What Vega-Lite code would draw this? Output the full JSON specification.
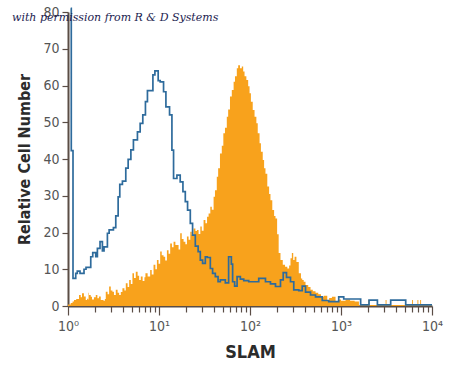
{
  "$schema": "https://vega.github.io/schema/vega-lite/v6.json",
  "autosize": "none",
  "width": 364,
  "height": 294,
  "padding": {"left": 68, "top": 12, "right": 18, "bottom": 63},
  "background": "white",
  "config": {"view": {"stroke": null}},
  "title": {"text": "with permission from R & D Systems", "anchor": "start", "frame": "group", "orient": "top", "offset": 0, "dx": -56, "dy": 27, "baseline": "alphabetic", "font": "DejaVu Serif", "fontStyle": "italic", "fontWeight": "normal", "fontSize": 11, "color": "#1c1c50"},
  "datasets": {
    "control": [
      {"log_slam": 0.03, "cells": 81}, {"log_slam": 0.036, "cells": 42.3}, {"log_slam": 0.055, "cells": 7.5}, {"log_slam": 0.085, "cells": 8.9}, {"log_slam": 0.102, "cells": 9.5}, {"log_slam": 0.132, "cells": 8.9}, {"log_slam": 0.176, "cells": 10.0}, {"log_slam": 0.198, "cells": 10.5}, {"log_slam": 0.25, "cells": 13.4}, {"log_slam": 0.272, "cells": 14.5}, {"log_slam": 0.305, "cells": 13.4}, {"log_slam": 0.323, "cells": 15.7}, {"log_slam": 0.352, "cells": 17.5}, {"log_slam": 0.378, "cells": 15.0}, {"log_slam": 0.396, "cells": 16.1}, {"log_slam": 0.433, "cells": 19.8}, {"log_slam": 0.452, "cells": 20.7}, {"log_slam": 0.499, "cells": 21.3}, {"log_slam": 0.525, "cells": 24.5}, {"log_slam": 0.551, "cells": 29.7}, {"log_slam": 0.569, "cells": 33.1}, {"log_slam": 0.598, "cells": 34.0}, {"log_slam": 0.635, "cells": 37.5}, {"log_slam": 0.661, "cells": 39.9}, {"log_slam": 0.691, "cells": 42.5}, {"log_slam": 0.719, "cells": 45.2}, {"log_slam": 0.763, "cells": 47.4}, {"log_slam": 0.793, "cells": 49.7}, {"log_slam": 0.822, "cells": 52.0}, {"log_slam": 0.851, "cells": 55.6}, {"log_slam": 0.873, "cells": 58.6}, {"log_slam": 0.933, "cells": 62.9}, {"log_slam": 0.955, "cells": 64.0}, {"log_slam": 0.991, "cells": 61.3}, {"log_slam": 1.013, "cells": 61.0}, {"log_slam": 1.05, "cells": 58.3}, {"log_slam": 1.076, "cells": 54.2}, {"log_slam": 1.116, "cells": 52.0}, {"log_slam": 1.142, "cells": 42.4}, {"log_slam": 1.16, "cells": 34.7}, {"log_slam": 1.197, "cells": 35.6}, {"log_slam": 1.233, "cells": 33.8}, {"log_slam": 1.263, "cells": 31.1}, {"log_slam": 1.289, "cells": 28.4}, {"log_slam": 1.314, "cells": 26.1}, {"log_slam": 1.344, "cells": 22.5}, {"log_slam": 1.369, "cells": 19.3}, {"log_slam": 1.399, "cells": 16.3}, {"log_slam": 1.43, "cells": 14.8}, {"log_slam": 1.454, "cells": 12.5}, {"log_slam": 1.479, "cells": 11.6}, {"log_slam": 1.509, "cells": 13.4}, {"log_slam": 1.531, "cells": 13.2}, {"log_slam": 1.564, "cells": 10.2}, {"log_slam": 1.589, "cells": 8.9}, {"log_slam": 1.619, "cells": 8.0}, {"log_slam": 1.649, "cells": 6.6}, {"log_slam": 1.674, "cells": 7.1}, {"log_slam": 1.729, "cells": 6.3}, {"log_slam": 1.765, "cells": 13.4}, {"log_slam": 1.795, "cells": 11.4}, {"log_slam": 1.809, "cells": 6.6}, {"log_slam": 1.831, "cells": 5.4}, {"log_slam": 1.858, "cells": 8.0}, {"log_slam": 1.894, "cells": 7.3}, {"log_slam": 1.931, "cells": 6.9}, {"log_slam": 1.986, "cells": 6.6}, {"log_slam": 2.096, "cells": 7.5}, {"log_slam": 2.17, "cells": 6.6}, {"log_slam": 2.225, "cells": 6.0}, {"log_slam": 2.28, "cells": 5.3}, {"log_slam": 2.335, "cells": 7.1}, {"log_slam": 2.365, "cells": 9.1}, {"log_slam": 2.401, "cells": 7.8}, {"log_slam": 2.445, "cells": 6.6}, {"log_slam": 2.481, "cells": 4.4}, {"log_slam": 2.536, "cells": 4.2}, {"log_slam": 2.574, "cells": 5.4}, {"log_slam": 2.61, "cells": 3.8}, {"log_slam": 2.665, "cells": 3.0}, {"log_slam": 2.72, "cells": 2.5}, {"log_slam": 2.794, "cells": 1.5}, {"log_slam": 2.865, "cells": 1.2}, {"log_slam": 2.975, "cells": 2.5}, {"log_slam": 3.03, "cells": 1.9}, {"log_slam": 3.216, "cells": 0.3}, {"log_slam": 3.308, "cells": 1.6}, {"log_slam": 3.4, "cells": 0.3}, {"log_slam": 3.546, "cells": 1.6}, {"log_slam": 3.711, "cells": 0.3}, {"log_slam": 4.0, "cells": 0.3}
    ],
    "stained": [
      {"log_slam": 0, "cells": 0.4}, {"log_slam": 0.03, "cells": 0.8}, {"log_slam": 0.05, "cells": 1.2}, {"log_slam": 0.066, "cells": 1.6}, {"log_slam": 0.09, "cells": 1.9}, {"log_slam": 0.121, "cells": 3.0}, {"log_slam": 0.14, "cells": 2.4}, {"log_slam": 0.154, "cells": 3.5}, {"log_slam": 0.175, "cells": 2.6}, {"log_slam": 0.195, "cells": 1.6}, {"log_slam": 0.21, "cells": 2.0}, {"log_slam": 0.22, "cells": 3.6}, {"log_slam": 0.225, "cells": 1.8}, {"log_slam": 0.231, "cells": 3.0}, {"log_slam": 0.25, "cells": 2.5}, {"log_slam": 0.264, "cells": 1.8}, {"log_slam": 0.285, "cells": 2.4}, {"log_slam": 0.305, "cells": 3.0}, {"log_slam": 0.323, "cells": 2.1}, {"log_slam": 0.34, "cells": 2.6}, {"log_slam": 0.36, "cells": 1.6}, {"log_slam": 0.39, "cells": 1.4}, {"log_slam": 0.405, "cells": 1.9}, {"log_slam": 0.415, "cells": 3.9}, {"log_slam": 0.435, "cells": 3.2}, {"log_slam": 0.452, "cells": 5.3}, {"log_slam": 0.47, "cells": 4.2}, {"log_slam": 0.488, "cells": 3.9}, {"log_slam": 0.505, "cells": 3.0}, {"log_slam": 0.525, "cells": 4.4}, {"log_slam": 0.545, "cells": 3.6}, {"log_slam": 0.562, "cells": 3.0}, {"log_slam": 0.58, "cells": 3.8}, {"log_slam": 0.598, "cells": 4.8}, {"log_slam": 0.62, "cells": 4.2}, {"log_slam": 0.635, "cells": 6.2}, {"log_slam": 0.655, "cells": 5.2}, {"log_slam": 0.672, "cells": 7.1}, {"log_slam": 0.69, "cells": 6.0}, {"log_slam": 0.708, "cells": 8.9}, {"log_slam": 0.725, "cells": 7.6}, {"log_slam": 0.745, "cells": 9.3}, {"log_slam": 0.765, "cells": 8.2}, {"log_slam": 0.782, "cells": 7.1}, {"log_slam": 0.8, "cells": 8.0}, {"log_slam": 0.82, "cells": 6.8}, {"log_slam": 0.84, "cells": 7.8}, {"log_slam": 0.851, "cells": 8.9}, {"log_slam": 0.875, "cells": 8.0}, {"log_slam": 0.903, "cells": 9.8}, {"log_slam": 0.92, "cells": 8.6}, {"log_slam": 0.94, "cells": 11.2}, {"log_slam": 0.96, "cells": 10.0}, {"log_slam": 0.977, "cells": 12.5}, {"log_slam": 0.995, "cells": 11.5}, {"log_slam": 1.013, "cells": 14.8}, {"log_slam": 1.03, "cells": 13.8}, {"log_slam": 1.05, "cells": 13.4}, {"log_slam": 1.068, "cells": 12.4}, {"log_slam": 1.087, "cells": 15.2}, {"log_slam": 1.105, "cells": 14.2}, {"log_slam": 1.123, "cells": 17.0}, {"log_slam": 1.142, "cells": 16.0}, {"log_slam": 1.16, "cells": 17.5}, {"log_slam": 1.18, "cells": 16.6}, {"log_slam": 1.197, "cells": 16.6}, {"log_slam": 1.215, "cells": 15.4}, {"log_slam": 1.233, "cells": 19.8}, {"log_slam": 1.25, "cells": 18.2}, {"log_slam": 1.27, "cells": 17.5}, {"log_slam": 1.29, "cells": 16.8}, {"log_slam": 1.307, "cells": 18.9}, {"log_slam": 1.325, "cells": 18.0}, {"log_slam": 1.344, "cells": 20.2}, {"log_slam": 1.36, "cells": 19.4}, {"log_slam": 1.38, "cells": 21.1}, {"log_slam": 1.4, "cells": 20.4}, {"log_slam": 1.417, "cells": 20.7}, {"log_slam": 1.435, "cells": 19.6}, {"log_slam": 1.454, "cells": 21.6}, {"log_slam": 1.47, "cells": 20.5}, {"log_slam": 1.49, "cells": 23.4}, {"log_slam": 1.51, "cells": 22.5}, {"log_slam": 1.528, "cells": 24.3}, {"log_slam": 1.545, "cells": 25.2}, {"log_slam": 1.564, "cells": 27.0}, {"log_slam": 1.58, "cells": 26.2}, {"log_slam": 1.6, "cells": 29.7}, {"log_slam": 1.615, "cells": 31.5}, {"log_slam": 1.635, "cells": 35.2}, {"log_slam": 1.65, "cells": 37.5}, {"log_slam": 1.67, "cells": 41.5}, {"log_slam": 1.69, "cells": 43.6}, {"log_slam": 1.707, "cells": 47.0}, {"log_slam": 1.725, "cells": 48.5}, {"log_slam": 1.745, "cells": 51.5}, {"log_slam": 1.76, "cells": 53.5}, {"log_slam": 1.78, "cells": 57.0}, {"log_slam": 1.8, "cells": 58.8}, {"log_slam": 1.82, "cells": 61.0}, {"log_slam": 1.835, "cells": 62.5}, {"log_slam": 1.855, "cells": 64.7}, {"log_slam": 1.87, "cells": 65.5}, {"log_slam": 1.89, "cells": 64.7}, {"log_slam": 1.91, "cells": 65.2}, {"log_slam": 1.925, "cells": 63.8}, {"log_slam": 1.94, "cells": 62.5}, {"log_slam": 1.96, "cells": 61.5}, {"log_slam": 1.98, "cells": 59.8}, {"log_slam": 1.995, "cells": 57.9}, {"log_slam": 2.01, "cells": 55.6}, {"log_slam": 2.03, "cells": 53.3}, {"log_slam": 2.05, "cells": 51.5}, {"log_slam": 2.07, "cells": 49.7}, {"log_slam": 2.085, "cells": 47.0}, {"log_slam": 2.105, "cells": 44.3}, {"log_slam": 2.12, "cells": 42.0}, {"log_slam": 2.14, "cells": 39.7}, {"log_slam": 2.155, "cells": 37.5}, {"log_slam": 2.17, "cells": 36.0}, {"log_slam": 2.19, "cells": 32.5}, {"log_slam": 2.21, "cells": 30.5}, {"log_slam": 2.225, "cells": 28.8}, {"log_slam": 2.245, "cells": 26.1}, {"log_slam": 2.265, "cells": 24.5}, {"log_slam": 2.28, "cells": 23.8}, {"log_slam": 2.298, "cells": 19.5}, {"log_slam": 2.315, "cells": 14.4}, {"log_slam": 2.335, "cells": 12.5}, {"log_slam": 2.36, "cells": 11.2}, {"log_slam": 2.385, "cells": 10.7}, {"log_slam": 2.41, "cells": 10.2}, {"log_slam": 2.43, "cells": 11.0}, {"log_slam": 2.445, "cells": 13.0}, {"log_slam": 2.46, "cells": 14.4}, {"log_slam": 2.475, "cells": 12.5}, {"log_slam": 2.49, "cells": 13.4}, {"log_slam": 2.51, "cells": 12.0}, {"log_slam": 2.536, "cells": 8.9}, {"log_slam": 2.56, "cells": 7.5}, {"log_slam": 2.574, "cells": 7.1}, {"log_slam": 2.59, "cells": 6.6}, {"log_slam": 2.61, "cells": 5.7}, {"log_slam": 2.64, "cells": 5.2}, {"log_slam": 2.665, "cells": 4.4}, {"log_slam": 2.69, "cells": 4.0}, {"log_slam": 2.72, "cells": 3.6}, {"log_slam": 2.75, "cells": 3.2}, {"log_slam": 2.78, "cells": 2.5}, {"log_slam": 2.81, "cells": 2.8}, {"log_slam": 2.849, "cells": 1.6}, {"log_slam": 2.87, "cells": 2.2}, {"log_slam": 2.9, "cells": 2.5}, {"log_slam": 2.94, "cells": 1.2}, {"log_slam": 2.97, "cells": 1.8}, {"log_slam": 3.0, "cells": 1.4}, {"log_slam": 3.05, "cells": 1.8}, {"log_slam": 3.1, "cells": 1.4}, {"log_slam": 3.15, "cells": 1.2}, {"log_slam": 3.197, "cells": 0.3}, {"log_slam": 3.3, "cells": 1.6}, {"log_slam": 3.31, "cells": 0.3}, {"log_slam": 3.49, "cells": 1.6}, {"log_slam": 3.5, "cells": 0.3}, {"log_slam": 3.78, "cells": 1.6}, {"log_slam": 3.79, "cells": 0.3}, {"log_slam": 3.84, "cells": 1.6}, {"log_slam": 3.85, "cells": 0.3}, {"log_slam": 3.87, "cells": 1.6}, {"log_slam": 3.88, "cells": 0.3}, {"log_slam": 4.0, "cells": 0.3}
    ]
  },
  "encoding": {
    "x": {
      "field": "log_slam", "type": "quantitative",
      "scale": {"domain": [0, 4], "nice": false, "zero": false},
      "axis": {
        "title": "SLAM",
        "titleFont": "DejaVu Sans Condensed", "titleFontSize": 18, "titleFontWeight": "bold", "titleColor": "#2b2b2b", "titlePadding": 10,
        "values": [0, 0.30103, 0.47712, 0.60206, 0.69897, 0.77815, 0.8451, 0.90309, 0.95424, 1, 1.30103, 1.47712, 1.60206, 1.69897, 1.77815, 1.8451, 1.90309, 1.95424, 2, 2.30103, 2.47712, 2.60206, 2.69897, 2.77815, 2.8451, 2.90309, 2.95424, 3, 3.30103, 3.47712, 3.60206, 3.69897, 3.77815, 3.8451, 3.90309, 3.95424, 4],
        "labelExpr": "abs(datum.value - round(datum.value)) < 0.001 ? '10' + ['⁰','¹','²','³','⁴'][round(datum.value)] : ''",
        "labelOverlap": false, "labelBound": false, "labelFlush": false,
        "labelFont": "DejaVu Sans Condensed", "labelFontSize": 14, "labelColor": "#555555", "labelPadding": 4,
        "tickSize": {"condition": {"test": "abs(datum.value - round(datum.value)) < 0.001", "value": 9}, "value": 6},
        "tickColor": "#5a4d45", "tickWidth": 1.2,
        "domainColor": "#5a4d45", "domainWidth": 2,
        "grid": false
      }
    },
    "y": {
      "field": "cells", "type": "quantitative",
      "scale": {"domain": [0, 80], "nice": false},
      "axis": {
        "title": "Relative Cell Number",
        "titleFont": "DejaVu Sans Condensed", "titleFontSize": 16, "titleFontWeight": "bold", "titleColor": "#2b2b2b", "titlePadding": 10,
        "values": [0, 10, 20, 30, 40, 50, 60, 70, 80],
        "labelFont": "DejaVu Sans Condensed", "labelFontSize": 14, "labelColor": "#555555", "labelPadding": 3,
        "tickSize": 6, "tickColor": "#5a4d45", "tickWidth": 1.2,
        "domainColor": "#5a4d45", "domainWidth": 2,
        "grid": false
      }
    }
  },
  "layer": [
    {"data": {"name": "stained"}, "mark": {"type": "area", "interpolate": "step-after", "color": "#f8a21c", "opacity": 1}},
    {"data": {"name": "control"}, "mark": {"type": "line", "interpolate": "step-after", "color": "#2e6b9c", "strokeWidth": 1.7}}
  ]
}
